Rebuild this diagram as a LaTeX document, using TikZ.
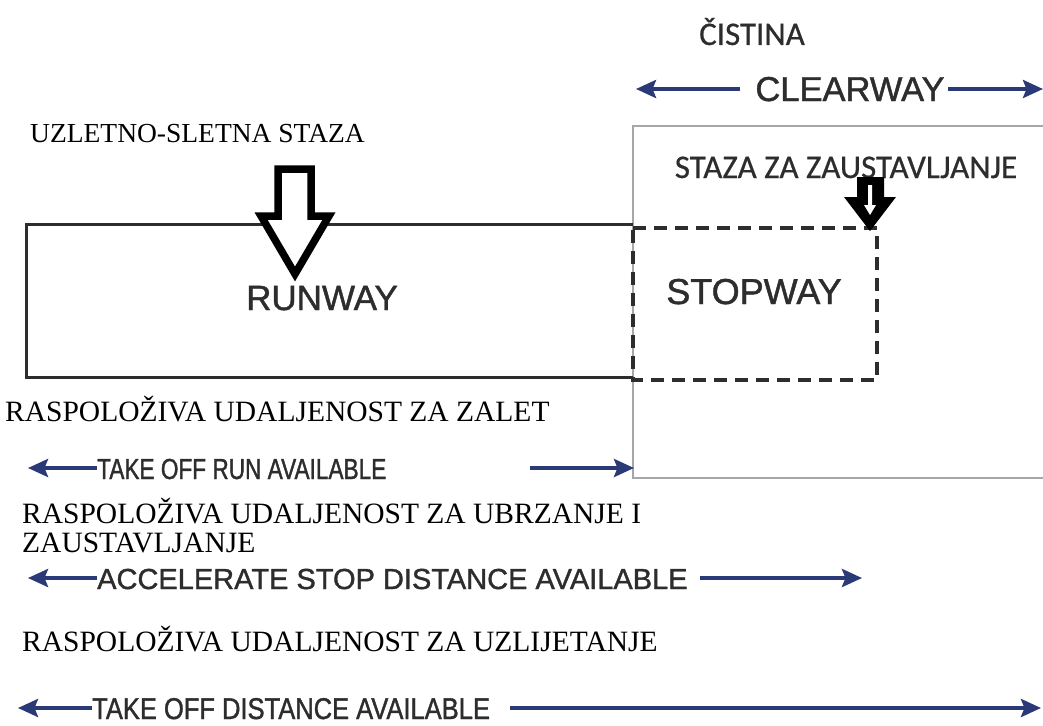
\documentclass[tikz,border=0pt]{standalone}
\usepackage{fontspec}
\setmainfont{Liberation Serif}
\newfontfamily\arialf[FakeBold=1.2]{Liberation Sans}
\newfontfamily\arialn[FakeStretch=0.78,FakeBold=1.2]{Liberation Sans}
\newfontfamily\arialm[FakeStretch=0.85,FakeBold=1.2]{Liberation Sans}
\newfontfamily\calfont[FakeBold=0.6]{Carlito}
\usetikzlibrary{arrows.meta}
\definecolor{navy}{RGB}{42,58,118}
\definecolor{ink}{RGB}{45,45,45}
\tikzset{
  serlab/.style={anchor=base west, inner sep=0pt, font=\fontsize{29.5}{31}\selectfont, text=black},
  biglab/.style={anchor=base, inner sep=0pt, font=\arialf\fontsize{35}{37}\selectfont, text=ink},
  callab/.style={anchor=base, inner sep=0pt, font=\calfont\fontsize{33}{35}\selectfont, text=ink},
  dimlab/.style={anchor=base west, inner sep=0pt, text=ink},
  dimarrow/.style={draw=navy, line width=3.8pt, -{Stealth[length=20pt,width=18pt,inset=3.5pt]}},
  runline/.style={draw=ink, line width=3pt},
  stopline/.style={draw=ink, line width=3.2pt, dash pattern=on 13pt off 8pt},
  clearline/.style={draw=gray!70, line width=2pt},
  blockarrow/.style={draw=black, line width=7.5pt, line join=miter, fill=white}
}
\begin{document}
\begin{tikzpicture}[x=1pt,y=-1pt]
\useasboundingbox (0,0) rectangle (1043,725);
\fill[white] (0,0) rectangle (1043,725);
\begin{scope}
\clip (0,0) rectangle (1043,725);
% clearway box
\draw[clearline] (1060,126) -- (633,126) -- (633,478) -- (1060,478);
% runway
\draw[runline] (633,224) -- (26,224) -- (26,377) -- (633,377);
% stopway
\draw[stopline] (633,228) -- (877,228) -- (877,380) -- (633,380) -- cycle;

% texts
\node[callab] (cistina) at (752,45) {ČISTINA};
\node[biglab, font=\arialf\fontsize{34.5}{36}\selectfont] (clearway) at (850,101) {CLEARWAY};
\node[serlab, font=\fontsize{27.5}{29}\selectfont] (rwyhr) at (30,142) {UZLETNO-SLETNA STAZA};
\node[callab] (swyhr) at (846,178) {STAZA ZA ZAUSTAVLJANJE};
\node[biglab] (runway) at (322,310) {RUNWAY};
\node[biglab, font=\arialf\fontsize{36}{38}\selectfont] (stopway) at (754,304) {STOPWAY};
\node[serlab] (torahr) at (5,421) {RASPOLOŽIVA UDALJENOST ZA ZALET};
\node[dimlab, font=\arialn\fontsize{29}{31}\selectfont] (tora) at (97,479) {TAKE OFF RUN AVAILABLE};
\node[serlab] (asdahr1) at (22,523) {RASPOLOŽIVA UDALJENOST ZA UBRZANJE I};
\node[serlab] (asdahr2) at (22,552) {ZAUSTAVLJANJE};
\node[dimlab, font=\arialf\fontsize{29}{31}\selectfont] (asda) at (97,589) {ACCELERATE STOP DISTANCE AVAILABLE};
\node[serlab] (todahr) at (22,651) {RASPOLOŽIVA UDALJENOST ZA UZLIJETANJE};
\node[dimlab, font=\arialm\fontsize{30}{32}\selectfont] (toda) at (92,719) {TAKE OFF DISTANCE AVAILABLE};

% dimension arrows
\coordinate (cwL1) at (740,89); \coordinate (cwL2) at (636,89);
\coordinate (cwR1) at (948,89); \coordinate (cwR2) at (1043,89);
\draw[dimarrow] (cwL1) -- (cwL2);
\draw[dimarrow] (cwR1) -- (cwR2);
\coordinate (toL1) at (97,468); \coordinate (toL2) at (28,468);
\coordinate (toR1) at (530,468); \coordinate (toR2) at (634,468);
\draw[dimarrow] (toL1) -- (toL2);
\draw[dimarrow] (toR1) -- (toR2);
\coordinate (asL1) at (97,578); \coordinate (asL2) at (28,578);
\coordinate (asR1) at (700,578); \coordinate (asR2) at (862,578);
\draw[dimarrow] (asL1) -- (asL2);
\draw[dimarrow] (asR1) -- (asR2);
\coordinate (tdL1) at (92,708); \coordinate (tdL2) at (18,708);
\coordinate (tdR1) at (510,708); \coordinate (tdR2) at (1041,708);
\draw[dimarrow] (tdL1) -- (tdL2);
\draw[dimarrow] (tdR1) -- (tdR2);

% big block arrow
\draw[blockarrow] (278,169) -- (311,169) -- (311,216) -- (329,216) -- (295,274) -- (261,216) -- (278,216) -- cycle;
% small block arrow
\fill[black] (857,177) -- (884,177) -- (884,197) -- (896,197) -- (870,231) -- (844,197) -- (857,197) -- cycle;
\fill[white] (868,185) -- (872,185) -- (872,205) -- (876,205) -- (870,215) -- (864,205) -- (868,205) -- cycle;
\end{scope}
\end{tikzpicture}
\end{document}
